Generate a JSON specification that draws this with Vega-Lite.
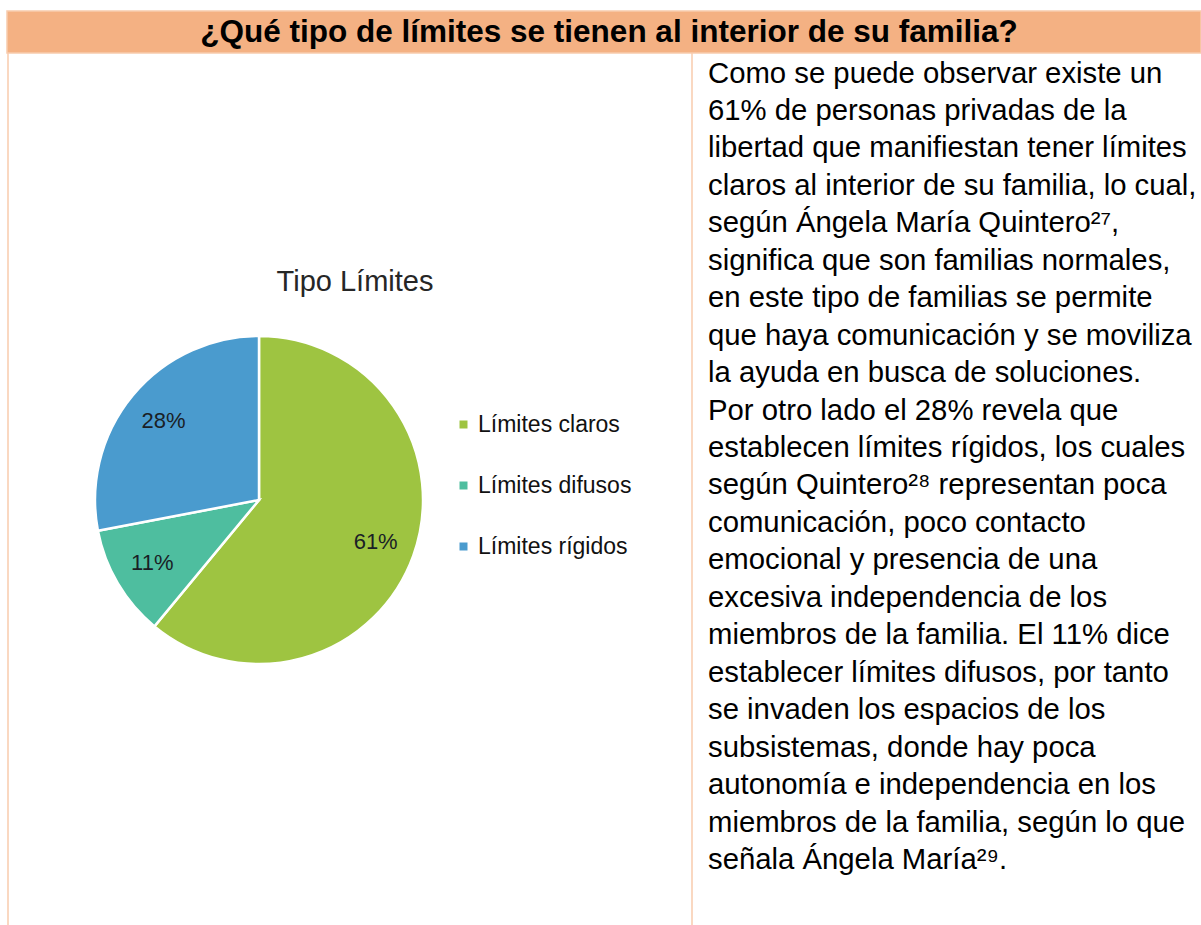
{
  "$schema": "https://vega.github.io/schema/vega-lite/v6.json",
  "width": 1201,
  "height": 925,
  "autosize": {"type": "none"},
  "padding": 0,
  "background": "white",
  "config": {"view": {"stroke": null}, "font": "Arial"},
  "layer": [
    {
      "data": {"values": [{"title": "¿Qué tipo de límites se tienen al interior de su familia?"}]},
      "layer": [
        {"mark": {"type": "rect", "x": 7, "x2": 1201, "y": 11, "y2": 53, "fill": "#F4B183", "stroke": "#F8CBAD", "strokeWidth": 1.5}, "encoding": {}},
        {"mark": {"type": "rule", "stroke": "#F8CBAD", "strokeWidth": 1.5},
         "encoding": {"x": {"value": 8}, "y": {"value": 53}, "y2": {"value": 925}}},
        {"mark": {"type": "rule", "stroke": "#F8CBAD", "strokeWidth": 1.5},
         "encoding": {"x": {"value": 692}, "y": {"value": 53}, "y2": {"value": 925}}},
        {"mark": {"type": "text", "x": 609, "y": 42, "align": "center", "baseline": "alphabetic", "font": "Arial", "fontSize": 31.5, "fontWeight": "bold", "color": "#000000"},
         "encoding": {"text": {"field": "title", "type": "nominal"}}}
      ]
    },
    {
      "data": {"values": [{"ct": "Tipo Límites"}]},
      "mark": {"type": "text", "x": 355, "y": 291, "align": "center", "baseline": "alphabetic", "font": "Arial", "fontSize": 29, "color": "#262626"},
      "encoding": {"text": {"field": "ct", "type": "nominal"}}
    },
    {
      "data": {"values": [
        {"cat": "Límites claros", "pct": 61, "label": "61%"},
        {"cat": "Límites difusos", "pct": 11, "label": "11%"},
        {"cat": "Límites rígidos", "pct": 28, "label": "28%"}
      ]},
      "layer": [
        {
          "mark": {"type": "arc", "x": 259, "y": 500, "outerRadius": 164, "stroke": "white", "strokeWidth": 2.5},
          "encoding": {
            "theta": {"field": "pct", "type": "quantitative", "stack": true},
            "order": {"field": "cat", "type": "nominal"},
            "color": {
              "field": "cat", "type": "nominal",
              "scale": {"domain": ["Límites claros", "Límites difusos", "Límites rígidos"], "range": ["#9EC441", "#4EBE9F", "#4A9BCE"]},
              "legend": {
                "orient": "none", "legendX": 452, "legendY": 413, "title": null,
                "symbolType": "square", "symbolSize": 64, "symbolStrokeWidth": 0,
                "labelFont": "Arial", "labelFontSize": 23, "labelColor": "#111111",
                "labelOffset": 3, "rowPadding": 37, "padding": 0, "labelLimit": 400
              }
            }
          }
        },
        {
          "mark": {"type": "text", "x": 259, "y": 500, "radius": 124, "font": "Arial", "fontSize": 22, "color": "#1a1f26", "align": "center", "baseline": "middle"},
          "encoding": {
            "theta": {"field": "pct", "type": "quantitative", "stack": true},
            "order": {"field": "cat", "type": "nominal"},
            "text": {"field": "label", "type": "nominal"}
          }
        }
      ]
    },
    {
      "data": {"values": [
        {"line": 1, "text": "Como se puede observar existe un"},
        {"line": 2, "text": "61% de personas privadas de la"},
        {"line": 3, "text": "libertad que manifiestan tener límites"},
        {"line": 4, "text": "claros al interior de su familia, lo cual,"},
        {"line": 5, "text": "según Ángela María Quintero²⁷,"},
        {"line": 6, "text": "significa que son familias normales,"},
        {"line": 7, "text": "en este tipo de familias se permite"},
        {"line": 8, "text": "que haya comunicación y se moviliza"},
        {"line": 9, "text": "la ayuda en busca de soluciones."},
        {"line": 10, "text": "Por otro lado el 28% revela que"},
        {"line": 11, "text": "establecen límites rígidos, los cuales"},
        {"line": 12, "text": "según Quintero²⁸ representan poca"},
        {"line": 13, "text": "comunicación, poco contacto"},
        {"line": 14, "text": "emocional y presencia de una"},
        {"line": 15, "text": "excesiva independencia de los"},
        {"line": 16, "text": "miembros de la familia. El 11% dice"},
        {"line": 17, "text": "establecer límites difusos, por tanto"},
        {"line": 18, "text": "se invaden los espacios de los"},
        {"line": 19, "text": "subsistemas, donde hay poca"},
        {"line": 20, "text": "autonomía e independencia en los"},
        {"line": 21, "text": "miembros de la familia, según lo que"},
        {"line": 22, "text": "señala Ángela María²⁹."}
      ]},
      "mark": {"type": "text", "x": 708, "align": "left", "baseline": "alphabetic", "font": "Arial", "fontSize": 29.3, "color": "#000000"},
      "encoding": {
        "y": {"field": "line", "type": "quantitative", "axis": null, "scale": {"domain": [1, 22], "range": [82.5, 869], "nice": false, "zero": false}},
        "text": {"field": "text", "type": "nominal"}
      }
    }
  ]
}
